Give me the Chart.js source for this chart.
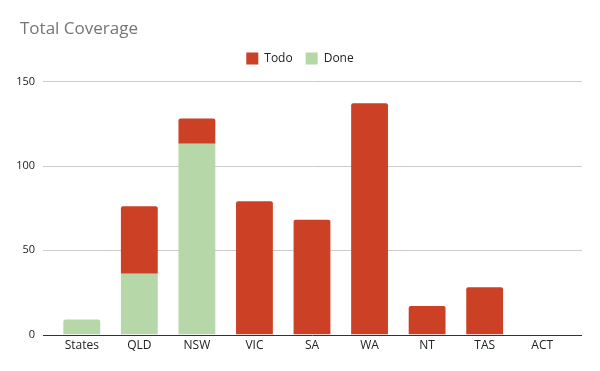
<!DOCTYPE html>
<html>
<head>
<meta charset="utf-8">
<script src="https://cdn.jsdelivr.net/npm/chart.js@4.4.0/dist/chart.umd.min.js"></script>
<style>
  html, body { margin: 0; padding: 0; background: #fff; }
  #wrap { width: 600px; height: 371px; position: relative; }
</style>
</head>
<body>
<div id="wrap"><canvas id="coverageChart"></canvas></div>
<script>
// Data
const states = ["States", "QLD", "NSW", "VIC", "SA", "WA", "NT", "TAS", "ACT"];
const doneValues = [9, 36, 113, null, null, null, null, null, null];
const todoValues = [null, 40, 15, 79, 68, 137, 17, 28, null];
const yTicks = [0, 50, 100, 150];

const RED = '#cc4125';
const GREEN = '#b6d7a8';

// grid lines run a bit wider than the bars, like the Sheets chart
const wideGrid = {
    id: 'wideGrid',
    beforeDatasetsDraw(chart) {
        const c = chart.ctx;
        const y = chart.scales.y;
        const left = 43, right = 582;
        c.save();
        yTicks.forEach(v => {
            const py = Math.round(y.getPixelForValue(v)) + 0.5;
            c.strokeStyle = v === 0 ? '#333333' : '#cccccc';
            c.lineWidth = 1;
            c.beginPath();
            c.moveTo(left, py);
            c.lineTo(right, py);
            c.stroke();
        });
        c.restore();
    }
};

// more room under the legend, title moved in from the edge, legend centred on the page
const headerFix = {
    id: 'headerFix',
    beforeInit(chart) {
        const fit = chart.legend.fit;
        chart.legend.fit = function () {
            fit.bind(chart.legend)();
            this.height += 7;
        };
    },
    afterLayout(chart) {
        chart.titleBlock.left = 20;
        chart.legend.left += 10;
        chart.legend.right += 10;
    }
};

const ctx = document.getElementById('coverageChart').getContext('2d');
const chart = new Chart(ctx, {
    type: 'bar',
    data: {
        labels: states,
        datasets: [
            {
                label: 'Done',
                data: doneValues,
                backgroundColor: GREEN,
                borderRadius: 2,
                borderSkipped: 'bottom',
                barPercentage: 0.64,
                categoryPercentage: 1
            },
            {
                label: 'Todo',
                data: todoValues,
                backgroundColor: RED,
                borderRadius: 2,
                borderSkipped: 'bottom',
                barPercentage: 0.64,
                categoryPercentage: 1
            }
        ]
    },
    options: {
        responsive: true,
        maintainAspectRatio: false,
        animation: false,
        layout: { padding: { left: 0, right: 20, top: 0, bottom: 14 } },
        plugins: {
            title: {
                display: true,
                text: 'Total Coverage',
                align: 'start',
                color: '#757575',
                font: { family: 'Open Sans', size: 17, weight: 'normal' },
                padding: { top: 19, bottom: 0 }
            },
            legend: {
                display: true,
                position: 'top',
                labels: {
                    boxWidth: 12,
                    boxHeight: 12,
                    color: '#222222',
                    padding: 13,
                    font: { family: 'Open Sans', size: 12 },
                    sort: (a, b) => b.datasetIndex - a.datasetIndex
                }
            },
            tooltip: { enabled: false }
        },
        scales: {
            x: {
                stacked: true,
                grid: { display: false, drawTicks: false },
                border: { display: false },
                ticks: {
                    color: '#222222',
                    font: { family: 'Open Sans', size: 12 },
                    padding: 4
                }
            },
            y: {
                stacked: true,
                min: 0,
                max: 150,
                afterFit: s => { s.width = 53; },
                afterBuildTicks: s => { s.ticks = yTicks.map(v => ({ value: v })); },
                grid: { display: false, drawTicks: false },
                border: { display: false },
                ticks: {
                    color: '#222222',
                    font: { family: 'Open Sans', size: 11 },
                    padding: 18
                }
            },
            // empty right axis, only keeps the plot off the right edge
            pad: {
                position: 'right',
                display: true,
                afterFit: s => { s.width = 9; },
                grid: { display: false, drawTicks: false },
                border: { display: false },
                ticks: { display: false }
            }
        }
    },
    plugins: [wideGrid, headerFix]
});
</script>
</body>
</html>
